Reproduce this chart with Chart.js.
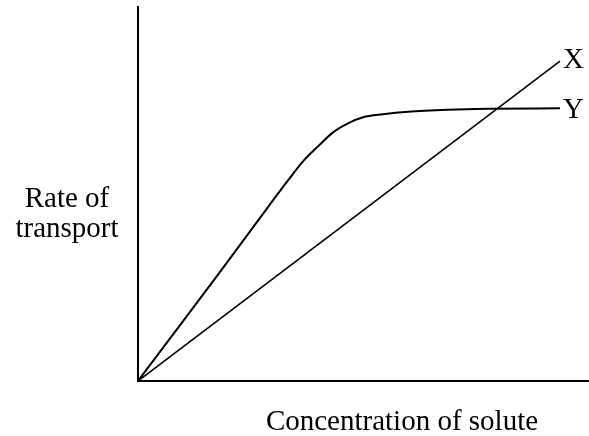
<!DOCTYPE html>
<html lang="en">
<head>
    <meta charset="UTF-8">
    <title>Rate of transport</title>
    <style>
        body { margin: 0; background: #fff; }
        #wrap { width: 589px; height: 436px; }
    </style>
</head>
<body>
    <div id="wrap">
        <canvas id="grafico1" width="589" height="436"></canvas>
    </div>

    <script src="https://cdn.jsdelivr.net/npm/chart.js"></script>

    <script>
        // concentration (x) and rate (y), arbitrary units
        const concX = [0, 422]
        const rateX = [0, 319]
        const concY = [0, 40, 80, 120, 150, 165, 180, 195, 210, 225, 245, 270, 310, 350, 422]
        const rateY = [0, 53, 106, 160, 200, 219, 234, 248, 257, 263, 266, 268.5, 270.5, 271.5, 272]
        const lineNames = ['X', 'Y']
        const xTitle = 'Concentration of solute'
        const yTitle = ['Rate of', 'transport']

        const pts = (xs, ys) => xs.map((v, i) => ({ x: v, y: ys[i] }))

        // labels beside the line ends + the horizontal axis titles
        const textos = {
            id: 'textos',
            afterDraw(chart) {
                const c = chart.ctx
                c.save()
                c.fillStyle = '#000'
                c.font = '29px "Liberation Serif", "Times New Roman", serif'
                c.textBaseline = 'alphabetic'
                c.textAlign = 'left'
                chart.data.datasets.forEach((ds, i) => {
                    const meta = chart.getDatasetMeta(i)
                    const last = meta.data[meta.data.length - 1]
                    c.fillText(lineNames[i], last.x + 3, i == 0 ? 68 : 118)
                })
                c.textAlign = 'center'
                c.fillText(yTitle[0], 67, 207)
                c.fillText(yTitle[1], 67, 237)
                c.fillText(xTitle, 402, 430)
                c.restore()
            }
        }

        const ctx = document.getElementById('grafico1')

        let grafico1 = new Chart(ctx, {
            type: 'line',
            data: {
                datasets: [{
                    label: lineNames[0],
                    data: pts(concX, rateX),
                    borderColor: '#000',
                    borderWidth: 1.6,
                    pointRadius: 0,
                    tension: 0
                }, {
                    label: lineNames[1],
                    data: pts(concY, rateY),
                    borderColor: '#000',
                    borderWidth: 2,
                    pointRadius: 0,
                    cubicInterpolationMode: 'monotone'
                }]
            },
            options: {
                responsive: false,
                animation: false,
                layout: { padding: { left: 138, top: 7, right: 0, bottom: 55 } },
                plugins: { legend: { display: false }, tooltip: { enabled: false } },
                scales: {
                    x: {
                        type: 'linear',
                        min: 0, max: 451,
                        grid: { display: false, drawTicks: false },
                        border: { display: true, color: '#000', width: 2 },
                        ticks: { display: false }
                    },
                    y: {
                        min: 0, max: 373,
                        grid: { display: false, drawTicks: false },
                        border: { display: true, color: '#000', width: 2 },
                        ticks: { display: false }
                    }
                }
            },
            plugins: [textos]
        })
    </script>
</body>
</html>
